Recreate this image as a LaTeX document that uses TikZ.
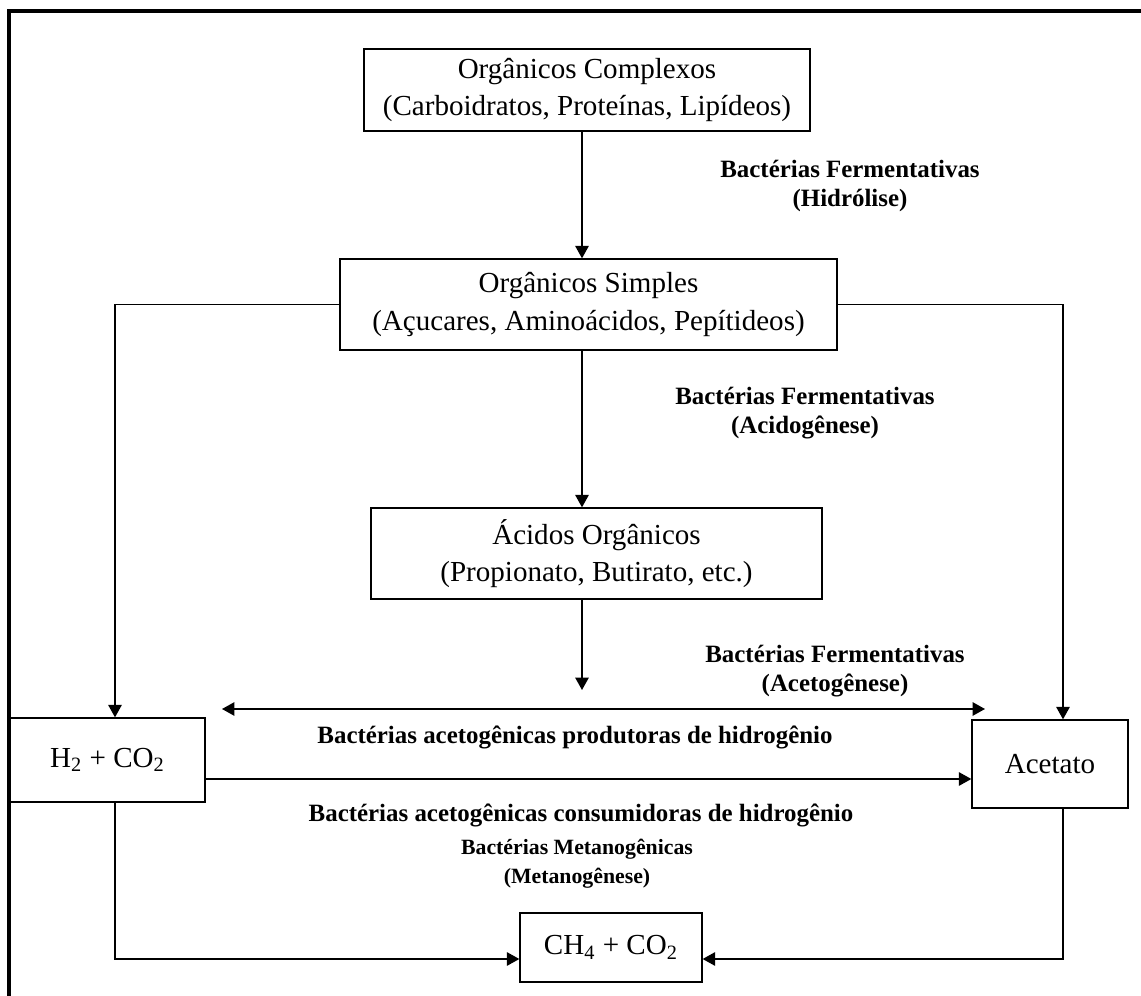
\documentclass[tikz,border=0pt]{standalone}
\usepackage{fontspec}
\setmainfont{Liberation Serif}
\usetikzlibrary{arrows.meta,positioning,calc}
\newcommand\pxl[1]{#1*0.01693cm}
\tikzset{
  etapa/.style={draw,line width=0.65pt,align=center,inner sep=0pt,
    font=\fontsize{14}{18}\selectfont,minimum height=\pxl{91}},
  rotulo/.style={align=center,inner sep=0pt,font=\fontsize{12}{14}\selectfont\bfseries},
  ponta/.tip={Triangle[length=6pt,width=6.5pt]},
  seta/.style={line width=0.7pt,-ponta},
}
\begin{document}
\begin{tikzpicture}[x=0.01693cm,y=-0.01693cm]
\useasboundingbox (0,0) rectangle (1141,996);
\draw[line width=1.45pt] (9,1100) -- (9,11) -- (1200,11); % moldura
% etapas
\node[etapa,minimum width=\pxl{446},minimum height=\pxl{82}] (cplx) at (587,90)
  {Orgânicos Complexos\\(Carboidratos, Proteínas, Lipídeos)};
\node[etapa,minimum width=\pxl{497}] (simp) at (588.5,304.5)
  {Orgânicos Simples\\(Açucares, Aminoácidos, Pepítideos)};
\node[etapa,minimum width=\pxl{451}] (acid) at (596.5,553.5)
  {Ácidos Orgânicos\\(Propionato, Butirato, etc.)};
\node[etapa,minimum width=\pxl{195},minimum height=\pxl{84}] (htwo) at (107.5,760)
  {H\textsubscript{2} + CO\textsubscript{2}};
\node[etapa,minimum width=\pxl{156},minimum height=\pxl{88}] (acet) at (1050,764) {Acetato};
\node[etapa,minimum width=\pxl{182},minimum height=\pxl{69}] (metano) at (611,947.5)
  {CH\textsubscript{4} + CO\textsubscript{2}};
% rotulos
\node[rotulo] (hidrol) at (850,186) {Bactérias Fermentativas\\(Hidrólise)};
\node[rotulo] (acidog) at (805,413) {Bactérias Fermentativas\\(Acidogênese)};
\node[rotulo] (acetog) at (835,671) {Bactérias Fermentativas\\(Acetogênese)};
\node[rotulo] (prod) at (575,737) {Bactérias acetogênicas produtoras de hidrogênio};
\node[rotulo] (cons) at (581,815) {Bactérias acetogênicas consumidoras de hidrogênio};
\node[rotulo,font=\fontsize{10.5}{14}\selectfont\bfseries] (metan) at (577,864)
  {Bactérias Metanogênicas\\(Metanogênese)};
% ligacoes
\coordinate (eixo) at (582,0);
\coordinate (fimac) at (582,690);
\coordinate (linL) at (222,709);
\coordinate (linR) at (985,709);
\draw[seta] (cplx.south -| eixo) -- (simp.north -| eixo);
\draw[seta] (simp.south -| eixo) -- (acid.north -| eixo);
\draw[seta] (acid.south -| eixo) -- (fimac);
\draw[line width=0.7pt,ponta-ponta] (linL) -- (linR);
\draw[seta] (simp.west) -| ($(htwo.north)+(7.5,0)$);
\draw[seta] (simp.east) -| ($(acet.north)+(13,0)$);
\draw[seta] ($(htwo.east)+(0,19)$) -- (acet.west |- {$(htwo.east)+(0,19)$});
\draw[seta] ($(htwo.south)+(7.5,0)$) |- ($(metano.west)+(0,11.5)$);
\draw[seta] ($(acet.south)+(13,0)$) |- ($(metano.east)+(0,11.5)$);
\end{tikzpicture}
\end{document}
